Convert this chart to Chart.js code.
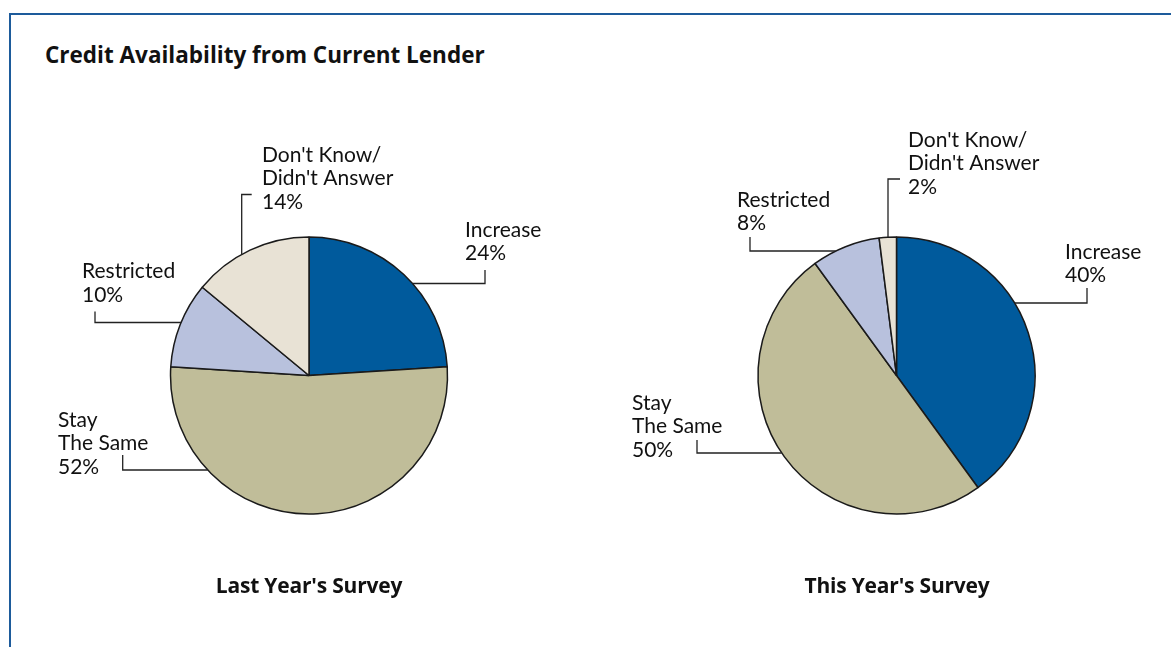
<!DOCTYPE html>
<html lang="en">
<head>
    <meta charset="UTF-8">
    <title>Credit Availability from Current Lender</title>
    <script src="https://cdn.jsdelivr.net/npm/chart.js"></script>
    <style>
        body {
            margin: 0;
            background: #fff;
            font-family: Lato, "Open Sans", sans-serif;
        }
        .frame {
            position: absolute;
            left: 9px;
            top: 13px;
            width: 1171px;
            height: 640px;
            border-top: 2px solid #1d5b9b;
            border-left: 2px solid #1d5b9b;
        }
        h1 {
            position: absolute;
            left: 45px;
            top: 39px;
            margin: 0;
            font-family: "Open Sans", sans-serif;
            font-size: 22.5px;
            font-weight: bold;
            color: #111;
        }
        .pie-box {
            position: absolute;
            top: 0;
            height: 647px;
        }
        .survey {
            position: absolute;
            top: 571px;
            width: 300px;
            margin-left: -150px;
            text-align: center;
            font-family: "Open Sans", sans-serif;
            font-size: 21px;
            font-weight: bold;
            letter-spacing: -0.2px;
            color: #111;
        }
    </style>
</head>
<body>
    <div class="frame"></div>
    <h1>Credit Availability from Current Lender</h1>

    <!-- Left pie: last year -->
    <div class="pie-box" style="left:0; width:618px;">
        <canvas id="lastYearChart"></canvas>
    </div>
    <div class="survey" id="lastYearName" style="left:309px;"></div>

    <!-- Right pie: this year -->
    <div class="pie-box" style="left:622px; width:549px;">
        <canvas id="thisYearChart"></canvas>
    </div>
    <div class="survey" id="thisYearName" style="left:897px;"></div>

    <script>
        // Survey answers, in clockwise order from 12 o'clock
        const categories = ['Increase', 'Stay The Same', 'Restricted', "Don't Know/Didn't Answer"];
        const labelLines = [['Increase'], ['Stay', 'The Same'], ['Restricted'], ["Don't Know/", "Didn't Answer"]];
        const lastYear = [24, 52, 10, 14];
        const thisYear = [40, 50, 8, 2];
        const surveyNames = ["Last Year's Survey", "This Year's Survey"];
        const sliceColors = ['#005a9c', '#c0bd99', '#b8c1dd', '#e8e2d5'];

        // Callout placement, offsets from the pie centre.
        // 'h' leaders leave the rim horizontally at y, bend at x, stop at endY.
        // 'v' leaders leave the rim vertically at x, bend at y, stop at endX.
        const lastYearCallouts = [
            { tx: 156, ty: -145.5, kind: 'h', y: -92, x: 176, endY: -105.5 },
            { tx: -251, ty: 44.5, kind: 'h', y: 94.5, x: -186.3, endY: 79.5 },
            { tx: -227, ty: -104, kind: 'h', y: -53, x: -214, endY: -64 },
            { tx: -47, ty: -220.5, kind: 'v', x: -67.3, y: -181, endX: -57.3 }
        ];
        const thisYearCallouts = [
            { tx: 168.5, ty: -123.5, kind: 'h', y: -72.5, x: 190.5, endY: -87.5 },
            { tx: -264.5, ty: 27.5, kind: 'h', y: 77.5, x: -199.5, endY: 64.5 },
            { tx: -159.5, ty: -175.5, kind: 'h', y: -124.5, x: -146.5, endY: -138.5 },
            { tx: 11.5, ty: -235.5, kind: 'v', x: -8.5, y: -196.5, endX: 3.5 }
        ];

        const LINE_GAP = 23.5;

        // Draws the bracket-shaped leader lines and the category / percent text
        const calloutPlugin = {
            id: 'callouts',
            afterDatasetsDraw(chart, args, opts) {
                const ctx = chart.ctx;
                const arc = chart.getDatasetMeta(0).data[0];
                const cx = arc.x, cy = arc.y, r = arc.outerRadius;
                const values = chart.data.datasets[0].data;

                ctx.save();
                ctx.strokeStyle = '#222';
                ctx.lineWidth = 1.3;
                ctx.fillStyle = '#111';
                ctx.font = '21px Lato, "Open Sans", sans-serif';
                ctx.textBaseline = 'middle';
                ctx.textAlign = 'left';

                opts.callouts.forEach((c, i) => {
                    ctx.beginPath();
                    if (c.kind === 'h') {
                        const side = c.x < 0 ? -1 : 1;
                        const rimX = cx + side * Math.sqrt(r * r - c.y * c.y);
                        ctx.moveTo(rimX, cy + c.y);
                        ctx.lineTo(cx + c.x, cy + c.y);
                        ctx.lineTo(cx + c.x, cy + c.endY);
                    } else {
                        const rimY = cy - Math.sqrt(r * r - c.x * c.x);
                        ctx.moveTo(cx + c.x, rimY);
                        ctx.lineTo(cx + c.x, cy + c.y);
                        ctx.lineTo(cx + c.endX, cy + c.y);
                    }
                    ctx.stroke();

                    const lines = labelLines[i].concat([values[i] + '%']);
                    lines.forEach((t, k) => {
                        ctx.fillText(t, cx + c.tx, cy + c.ty + k * LINE_GAP);
                    });
                });
                ctx.restore();
            }
        };

        function makePie(canvasId, values, callouts) {
            return new Chart(document.getElementById(canvasId), {
                type: 'pie',
                data: {
                    labels: categories,
                    datasets: [{
                        data: values,
                        backgroundColor: sliceColors,
                        borderColor: '#1a1a1a',
                        borderWidth: 1.5,
                        radius: 138.5
                    }]
                },
                options: {
                    responsive: true,
                    maintainAspectRatio: false,
                    animation: false,
                    layout: { padding: { top: 104 } },
                    plugins: {
                        legend: { display: false },
                        tooltip: { enabled: false },
                        callouts: { callouts: callouts }
                    }
                },
                plugins: [calloutPlugin]
            });
        }

        makePie('lastYearChart', lastYear, lastYearCallouts);
        makePie('thisYearChart', thisYear, thisYearCallouts);

        document.getElementById('lastYearName').textContent = surveyNames[0];
        document.getElementById('thisYearName').textContent = surveyNames[1];
    </script>
</body>
</html>
